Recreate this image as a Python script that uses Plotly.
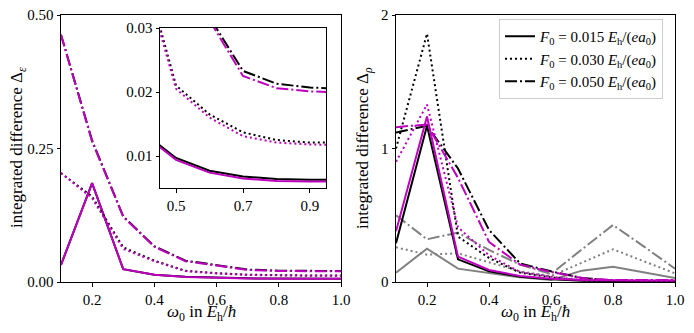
import plotly.graph_objects as go

# --- data ---
omega = [0.1, 0.2, 0.3, 0.4, 0.5, 0.6, 0.7, 0.8, 0.9, 1.0]

# integrated difference Delta_eps (left panel + inset)
eps_015_k = [0.032, 0.185, 0.024, 0.0137, 0.0097, 0.0077, 0.0068, 0.0064, 0.0063, 0.0063]
eps_015_m = [0.032, 0.185, 0.024, 0.0135, 0.0094, 0.0074, 0.0065, 0.0061, 0.0060, 0.0060]
eps_030_k = [0.204, 0.160, 0.065, 0.040, 0.0210, 0.0165, 0.0137, 0.0125, 0.0121, 0.0121]
eps_030_m = [0.204, 0.157, 0.062, 0.039, 0.0205, 0.0160, 0.0131, 0.0121, 0.0118, 0.0117]
eps_050_k = [0.463, 0.265, 0.123, 0.067, 0.040, 0.0317, 0.0233, 0.0213, 0.0207, 0.0205]
eps_050_m = [0.463, 0.263, 0.122, 0.066, 0.039, 0.0312, 0.0225, 0.0206, 0.0201, 0.0199]

# integrated difference Delta_rho (right panel)
rho_015_k = [0.29, 1.17, 0.17, 0.08, 0.04, 0.02, 0.01, 0.005, 0.005, 0.005]
rho_015_m = [0.38, 1.24, 0.19, 0.09, 0.045, 0.025, 0.015, 0.012, 0.012, 0.012]
rho_030_k = [1.00, 1.86, 0.34, 0.18, 0.07, 0.035, 0.012, 0.005, 0.005, 0.005]
rho_030_m = [0.90, 1.33, 0.41, 0.20, 0.075, 0.04, 0.015, 0.01, 0.01, 0.01]
rho_050_k = [1.12, 1.17, 0.85, 0.39, 0.14, 0.08, 0.03, 0.01, 0.01, 0.01]
rho_050_m = [1.16, 1.18, 0.78, 0.30, 0.13, 0.075, 0.03, 0.015, 0.015, 0.015]
rho_015_g = [0.07, 0.25, 0.10, 0.065, 0.035, 0.015, 0.085, 0.115, 0.075, 0.03]
rho_030_g = [0.26, 0.205, 0.215, 0.15, 0.08, 0.045, 0.145, 0.245, 0.155, 0.065]
rho_050_g = [0.50, 0.32, 0.37, 0.24, 0.13, 0.06, 0.245, 0.427, 0.265, 0.10]

x_ticks = [0.2, 0.4, 0.6, 0.8, 1.0]
x_ticktext = ["0.2", "0.4", "0.6", "0.8", "1.0"]
eps_ticks = [0, 0.25, 0.5]
eps_ticktext = ["0.00", "0.25", "0.50"]
rho_ticks = [0, 1, 2]
inset_xticks = [0.5, 0.7, 0.9]
inset_yticks = [0.01, 0.02, 0.03]

BLACK = "black"
MAG = "#bf00bf"
GREY = "#808080"
DASHES = ["solid", "2px,3px", "12px,3px,2px,3px"]
FONT = "Liberation Serif"

legend_names = [
    "<i>F</i><sub>0</sub> = 0.015 <i>E</i><sub>h</sub>/(<i>ea</i><sub>0</sub>)",
    "<i>F</i><sub>0</sub> = 0.030 <i>E</i><sub>h</sub>/(<i>ea</i><sub>0</sub>)",
    "<i>F</i><sub>0</sub> = 0.050 <i>E</i><sub>h</sub>/(<i>ea</i><sub>0</sub>)",
]

W, H = 694, 333
OFF = 8  # the page's body margin shifts the whole figure by this much on screen


def px(x):
    return (x - OFF) / W


def py(y):
    return (H - (y - OFF)) / H


def xdom(a, b):
    return [px(a), px(b)]


def ydom(top, bottom):
    return [py(bottom), py(top)]


fig = go.Figure()


def add_line(y, color, dash, xa, ya, name=None, legend=False):
    fig.add_trace(go.Scatter(
        x=omega, y=y, mode="lines", xaxis=xa, yaxis=ya,
        line=dict(color=color, width=2, dash=dash),
        name=name, showlegend=legend,
    ))


eps_k = [eps_015_k, eps_030_k, eps_050_k]
eps_m = [eps_015_m, eps_030_m, eps_050_m]
rho_k = [rho_015_k, rho_030_k, rho_050_k]
rho_m = [rho_015_m, rho_030_m, rho_050_m]
rho_g = [rho_015_g, rho_030_g, rho_050_g]

# left panel and inset
for xa, ya in [("x", "y"), ("x3", "y3")]:
    for i in range(3):
        add_line(eps_k[i], BLACK, DASHES[i], xa, ya)
        add_line(eps_m[i], MAG, DASHES[i], xa, ya)

# right panel
for i in range(3):
    add_line(rho_g[i], GREY, DASHES[i], "x2", "y2")
for i in range(3):
    add_line(rho_k[i], BLACK, DASHES[i], "x2", "y2", name=legend_names[i], legend=True)
for i in range(3):
    add_line(rho_m[i], MAG, DASHES[i], "x2", "y2")

ax_common = dict(
    showline=True, linecolor="black", linewidth=1, mirror=True,
    ticks="outside", ticklen=3.5, tickwidth=1, tickcolor="black",
    showgrid=False, zeroline=False, automargin=False, ticklabeloverflow="allow",
    tickfont=dict(family=FONT, size=15, color="black"),
)
title_font = dict(family=FONT, size=17, color="black")
xlabel = "<i>ω</i><sub>0</sub> in <i>E</i><sub>h</sub>/<i>ħ</i>"

# axis titles as annotations so they can sit exactly where the reference has them
titles = [
    dict(text=xlabel, x=px(201), y=py(313), textangle=0),
    dict(text=xlabel, x=px(535), y=py(313), textangle=0),
    dict(text="integrated difference Δ<sub><i>ε</i></sub>", x=px(18), y=py(148), textangle=-90),
    dict(text="integrated difference Δ<sub><i>ρ</i></sub>", x=px(364), y=py(148), textangle=-90),
]
annotations = [
    dict(t, xref="paper", yref="paper", xanchor="center", yanchor="middle",
         showarrow=False, font=title_font)
    for t in titles
]

fig.update_layout(
    width=W, height=H,
    margin=dict(l=0, r=0, t=0, b=0),
    paper_bgcolor="white", plot_bgcolor="white",
    font=dict(family=FONT, size=15, color="black"),
    xaxis=dict(ax_common, domain=xdom(61, 341), range=[0.1, 1.0],
               tickvals=x_ticks, ticktext=x_ticktext),
    yaxis=dict(ax_common, domain=ydom(15, 282), range=[0, 0.5],
               tickvals=eps_ticks, ticktext=eps_ticktext),
    xaxis2=dict(ax_common, domain=xdom(396, 675), range=[0.1, 1.0], anchor="y2",
                tickvals=x_ticks, ticktext=x_ticktext),
    yaxis2=dict(ax_common, domain=ydom(15, 282), range=[0, 2], anchor="x2",
                tickvals=rho_ticks, ticktext=[str(t) for t in rho_ticks]),
    xaxis3=dict(ax_common, domain=xdom(160, 326), range=[0.452, 0.948], anchor="y3",
                tickvals=inset_xticks, ticktext=["0.5", "0.7", "0.9"]),
    yaxis3=dict(ax_common, domain=ydom(28, 188), range=[0.005, 0.03], anchor="x3",
                tickvals=inset_yticks, ticktext=["0.01", "0.02", "0.03"]),
    annotations=annotations,
    legend=dict(x=px(499), y=py(19), xanchor="left", yanchor="top",
                bgcolor="rgba(255,255,255,0.8)", bordercolor="#cccccc", borderwidth=1,
                font=dict(family=FONT, size=15), tracegroupgap=0, itemwidth=30),
)

fig.write_html("out.html")
